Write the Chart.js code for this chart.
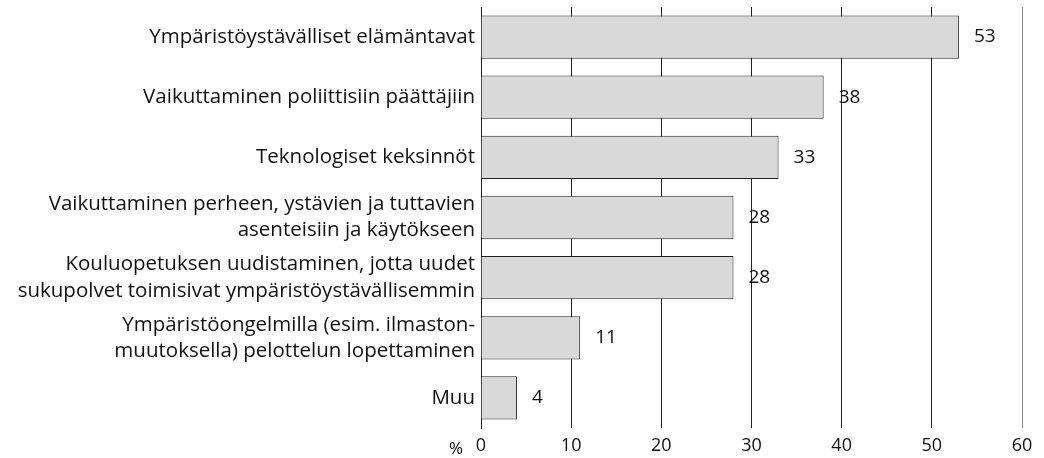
<!DOCTYPE html>
<html>
<head>
<meta charset="utf-8">
<script src="https://cdn.jsdelivr.net/npm/chart.js@4"></script>
<style>
  html, body { margin: 0; padding: 0; background: #fff; }
  #wrap { width: 1044px; height: 458px; }
</style>
</head>
<body>
<div id="wrap"><canvas id="chart" width="1044" height="458"></canvas></div>
<script>
// categories (multi-line labels)
const categories = [
  ['Ympäristöystävälliset elämäntavat'],
  ['Vaikuttaminen poliittisiin päättäjiin'],
  ['Teknologiset keksinnöt'],
  ['Vaikuttaminen perheen, ystävien ja tuttavien', 'asenteisiin ja käytökseen'],
  ['Kouluopetuksen uudistaminen, jotta uudet', 'sukupolvet toimisivat ympäristöystävällisemmin'],
  ['Ympäristöongelmilla (esim. ilmaston-', 'muutoksella) pelottelun lopettaminen'],
  ['Muu']
];
const values = [53, 38, 33, 28, 28, 11, 4];
const xTicks = [0, 10, 20, 30, 40, 50, 60];
const unitLabel = '%';

const FONT = '"Open Sans", sans-serif';

// draws the value next to each bar end, and the % unit left of the x ticks
const labelsPlugin = {
  id: 'labels',
  afterDatasetsDraw(chart) {
    const ctx = chart.ctx;
    const meta = chart.getDatasetMeta(0);
    ctx.save();
    ctx.font = '19px ' + FONT;
    ctx.fillStyle = '#111';
    ctx.textAlign = 'left';
    ctx.textBaseline = 'middle';
    meta.data.forEach((bar, i) => {
      ctx.fillText(String(values[i]), bar.x + 15, bar.y);
    });
    const xs = chart.scales.x;
    ctx.font = '17px ' + FONT;
    ctx.textAlign = 'center';
    ctx.fillText(unitLabel, xs.left - 25, xs.top + 21);
    ctx.restore();
  }
};

new Chart(document.getElementById('chart').getContext('2d'), {
  type: 'bar',
  data: {
    labels: categories,
    datasets: [{
      data: values,
      backgroundColor: '#d9d9d9',
      borderColor: '#222',
      borderWidth: 1,
      barPercentage: 0.72,
      categoryPercentage: 1
    }]
  },
  options: {
    indexAxis: 'y',
    responsive: false,
    animation: false,
    layout: { padding: { top: 7, right: 22, left: 0, bottom: 0 } },
    plugins: { legend: { display: false }, tooltip: { enabled: false } },
    scales: {
      x: {
        min: 0, max: 60,
        afterBuildTicks(axis) { axis.ticks = xTicks.map(v => ({ value: v })); },
        afterFit(axis) { axis.height = 30; },
        grid: {
          color: ctx => ctx.tick && ctx.tick.value === 60 ? '#888' : '#222',
          lineWidth: 1,
          drawTicks: false
        },
        border: { display: false },
        ticks: { color: '#111', font: { family: FONT, size: 18 }, padding: 7, maxRotation: 0 }
      },
      y: {
        afterFit(axis) {
          axis.width = 481;
          axis.paddingTop = 0;
          axis.paddingBottom = 0;
        },
        grid: { display: false, drawTicks: false },
        border: { display: true, color: '#222', width: 1 },
        ticks: {
          color: '#111',
          font: { family: FONT, size: 20.5, lineHeight: 1.27 },
          padding: 6,
          crossAlign: 'near'
        }
      }
    }
  },
  plugins: [labelsPlugin]
});
</script>
</body>
</html>
